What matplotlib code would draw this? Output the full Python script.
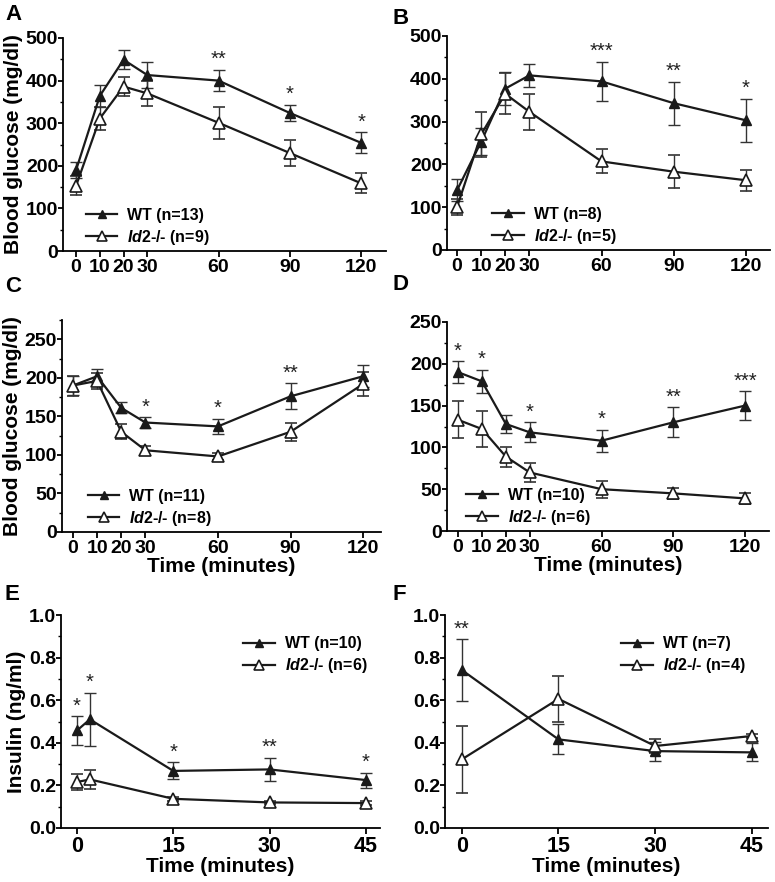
import matplotlib
matplotlib.use('Agg')
import matplotlib.pyplot as plt
from matplotlib.ticker import MultipleLocator, FormatStrFormatter

plt.rcParams['font.family'] = ['Liberation Sans', 'DejaVu Sans']
plt.rcParams['font.weight'] = 'bold'
plt.rcParams['mathtext.fontset'] = 'custom'
plt.rcParams['mathtext.it'] = 'Liberation Sans:italic:bold'
plt.rcParams['mathtext.rm'] = 'Liberation Sans:bold'

# ---- data ----
t_gtt = [0, 10, 20, 30, 60, 90, 120]
t_ins_e = [0, 2, 15, 30, 45]
t_ins_f = [0, 15, 30, 45]

# A: glucose tolerance
a_wt = [190, 364, 449, 413, 400, 324, 254]
a_wt_err = [18, 25, 22, 31, 25, 19, 25]
a_ko = [153, 311, 386, 370, 301, 230, 159]
a_ko_err = [22, 27, 22, 30, 37, 30, 23]
a_stars = ['', '', '', '', '**', '*', '*']

# B
b_wt = [140, 253, 377, 408, 394, 343, 303]
b_wt_err = [25, 31, 39, 27, 46, 50, 50]
b_ko = [101, 270, 365, 323, 207, 183, 163]
b_ko_err = [19, 52, 48, 42, 28, 39, 24]
b_stars = ['', '', '', '', '***', '**', '*']

# C: insulin tolerance
c_wt = [190, 202, 161, 142, 137, 176, 202]
c_wt_err = [12, 9, 7, 7, 10, 17, 14]
c_ko = [190, 196, 130, 106, 98, 130, 192]
c_ko_err = [13, 10, 10, 6, 5, 12, 15]
c_stars = ['', '', '', '*', '*', '**', '']

# D
d_wt = [190, 179, 128, 118, 108, 130, 150]
d_wt_err = [13, 14, 11, 12, 13, 18, 17]
d_ko = [133, 122, 89, 70, 50, 45, 39]
d_ko_err = [22, 22, 12, 11, 10, 7, 7]
d_stars = ['*', '*', '', '*', '*', '**', '***']

# E: insulin
e_wt = [0.458, 0.510, 0.268, 0.275, 0.225]
e_wt_err = [0.067, 0.125, 0.040, 0.055, 0.035]
e_ko = [0.216, 0.228, 0.137, 0.120, 0.117]
e_ko_err = [0.036, 0.043, 0.010, 0.008, 0.008]
e_stars = ['*', '*', '*', '**', '*']

# F
f_wt = [0.742, 0.416, 0.361, 0.355]
f_wt_err = [0.145, 0.070, 0.045, 0.042]
f_ko = [0.322, 0.606, 0.385, 0.432]
f_ko_err = [0.158, 0.107, 0.035, 0.010]
f_stars = ['**', '', '', '']

# ---- figure ----
W, H = 775, 882
fig = plt.figure(figsize=(W / 100, H / 100), dpi=100)


def px_axes(l, t, r, b):
    return fig.add_axes([l / W, 1 - b / H, (r - l) / W, (b - t) / H])


def panel(ax, x, wt, wt_err, ko, ko_err, stars, n_wt, n_ko, xlim, ylim,
          ymaj, ymin, xticks, loc, legend_anchor, xsize=14):
    h1 = ax.errorbar(x, wt, yerr=wt_err, color='#1a1a1a', lw=1.6, marker='^',
                     ms=7, mfc='#1a1a1a', mec='#1a1a1a', ecolor='#333333',
                     elinewidth=1.0, capsize=4, capthick=1.0, zorder=3)
    h2 = ax.errorbar(x, ko, yerr=ko_err, color='#1a1a1a', lw=1.6, marker='^',
                     ms=8, mfc='white', mec='#1a1a1a', mew=1.2,
                     ecolor='#333333', elinewidth=1.0, capsize=4,
                     capthick=1.0, zorder=3)
    for xi, yi, ei, s in zip(x, wt, wt_err, stars):
        if s:
            ax.annotate(s, (xi, yi + ei), textcoords='offset points',
                        xytext=(0, 0.5), ha='center', va='bottom',
                        fontsize=14.5, fontweight='normal', color='#222222')
    ax.set_xlim(*xlim)
    ax.set_ylim(*ylim)
    ax.set_xticks(xticks)
    ax.yaxis.set_major_locator(MultipleLocator(ymaj))
    ax.yaxis.set_minor_locator(MultipleLocator(ymin))
    for s in ['top', 'right']:
        ax.spines[s].set_visible(False)
    for s in ['left', 'bottom']:
        ax.spines[s].set_linewidth(1.3)
    ax.tick_params(axis='y', which='major', labelsize=14, width=1.3,
                   length=3.5, pad=0)
    ax.tick_params(axis='x', which='major', labelsize=xsize, width=1.3,
                   length=4, pad=2)
    ax.tick_params(axis='y', which='minor', width=1.0, length=2.5)
    for lab in ax.get_xticklabels() + ax.get_yticklabels():
        lab.set_fontweight('bold')
    leg = ax.legend([h1[0], h2[0]],
                    [f'WT (n={n_wt})', r'$\it{Id2}$-/- ' + f'(n={n_ko})'],
                    loc=loc, bbox_to_anchor=legend_anchor, frameon=False,
                    fontsize=11.5, handlelength=2.0, handletextpad=0.6,
                    labelspacing=0.3, borderaxespad=0, markerscale=0.85)
    for txt in leg.get_texts():
        txt.set_fontweight('bold')
    return ax


axA = px_axes(63, 38, 386, 251)
panel(axA, t_gtt, a_wt, a_wt_err, a_ko, a_ko_err, a_stars, 13, 9,
      (-5.5, 130.5), (0, 500), 100, 50, t_gtt, 'lower left', (0.05, -0.01))
axA.set_ylabel('Blood glucose (mg/dl)', fontsize=15, fontweight='bold',
               labelpad=2)

axB = px_axes(447, 36, 770, 250)
panel(axB, t_gtt, b_wt, b_wt_err, b_ko, b_ko_err, b_stars, 8, 5,
      (-4.2, 130), (0, 500), 100, 50, t_gtt, 'lower left', (0.12, -0.01))

axC = px_axes(62, 320, 381, 532)
panel(axC, t_gtt, c_wt, c_wt_err, c_ko, c_ko_err, c_stars, 11, 8,
      (-4.5, 127.4), (0, 275), 50, 25, t_gtt, 'lower left', (0.06, -0.01))
axC.set_ylabel('Blood glucose (mg/dl)', fontsize=15, fontweight='bold',
               labelpad=2)
axC.set_xlabel('Time (minutes)', fontsize=15, fontweight='bold', labelpad=0)

axD = px_axes(447, 322, 769, 531)
panel(axD, t_gtt, d_wt, d_wt_err, d_ko, d_ko_err, d_stars, 10, 6,
      (-4.6, 130), (0, 250), 50, 25, t_gtt, 'lower left', (0.04, -0.01))
axD.set_xlabel('Time (minutes)', fontsize=15, fontweight='bold', labelpad=0)

axE = px_axes(61, 615, 380, 828)
panel(axE, t_ins_e, e_wt, e_wt_err, e_ko, e_ko_err, e_stars, 10, 6,
      (-2.5, 47.2), (0, 1.0), 0.2, 0.1, [0, 15, 30, 45], 'upper right',
      (0.98, 0.93), xsize=15.5)
axE.yaxis.set_major_formatter(FormatStrFormatter('%.1f'))
axE.set_ylabel('Insulin (ng/ml)', fontsize=15, fontweight='bold', labelpad=2)
axE.set_xlabel('Time (minutes)', fontsize=15, fontweight='bold', labelpad=0)

axF = px_axes(445, 615, 768, 828)
panel(axF, t_ins_f, f_wt, f_wt_err, f_ko, f_ko_err, f_stars, 7, 4,
      (-2.6, 47.5), (0, 1.0), 0.2, 0.1, [0, 15, 30, 45], 'upper right',
      (0.95, 0.93), xsize=15.5)
axF.yaxis.set_major_formatter(FormatStrFormatter('%.1f'))
axF.set_xlabel('Time (minutes)', fontsize=15, fontweight='bold', labelpad=0)

# panel letters
for letter, (px, py) in zip('ABCDEF', [(5, 15), (392, 19), (5, 287),
                                       (392, 284), (5, 594), (392, 594)]):
    fig.text(px / W, 1 - py / H, letter, fontsize=16, fontweight='bold',
             ha='left', va='center')

fig.savefig('out.png', dpi=100)
